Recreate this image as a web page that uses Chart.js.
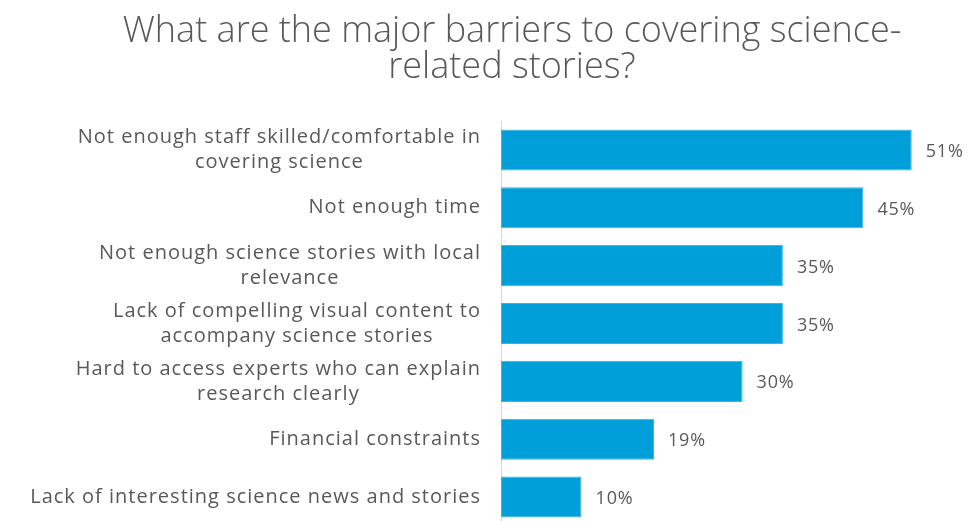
<!DOCTYPE html>
<html>
<head>
<meta charset="utf-8">
<script src="https://cdn.jsdelivr.net/npm/chart.js@4"></script>
<style>
  html, body { margin: 0; padding: 0; background: #fff; overflow: hidden; }
  #wrap { width: 968px; height: 526px; }
</style>
</head>
<body>
<div id="wrap"><canvas id="myChart" width="968" height="526"></canvas></div>
<script>
const categories = [
  ['Not enough staff skilled/comfortable in', 'covering science'],
  'Not enough time',
  ['Not enough science stories with local', 'relevance'],
  ['Lack of compelling visual content to', 'accompany science stories'],
  ['Hard to access experts who can explain', 'research clearly'],
  'Financial constraints',
  'Lack of interesting science news and stories'
]
const percents = [51, 45, 35, 35, 30, 19, 10]
const titleLines = ['What are the major barriers to covering science-', 'related stories?']

const FONT = '"Open Sans", "DejaVu Sans", sans-serif'
const GREY = '#595959'

// category names drawn by hand so wrapped lines are centred on each other
const categoryText = {
  id: 'categoryText',
  afterDraw(chart) {
    const ctx = chart.ctx
    const yScale = chart.scales.y
    const right = chart.chartArea.left - 20
    ctx.save()
    ctx.font = '20px ' + FONT
    ctx.letterSpacing = '1px'
    ctx.fillStyle = GREY
    ctx.textAlign = 'center'
    ctx.textBaseline = 'middle'
    categories.forEach((cat, i) => {
      const lines = Array.isArray(cat) ? cat : [cat]
      const w = Math.max(...lines.map(l => ctx.measureText(l).width))
      const cx = right - w / 2
      const cy = yScale.getPixelForValue(i)
      lines.forEach((l, j) => {
        ctx.fillText(l, cx, cy + (j - (lines.length - 1) / 2) * 25)
      })
    })
    ctx.restore()
  }
}

// percentage next to the end of each bar
const valueText = {
  id: 'valueText',
  afterDatasetsDraw(chart) {
    const ctx = chart.ctx
    const meta = chart.getDatasetMeta(0)
    ctx.save()
    ctx.font = '18px ' + FONT
    ctx.letterSpacing = '0.8px'
    ctx.fillStyle = GREY
    ctx.textAlign = 'left'
    ctx.textBaseline = 'middle'
    meta.data.forEach((bar, i) => {
      ctx.fillText(percents[i] + '%', bar.x + 14, bar.y + 2)
    })
    ctx.restore()
  }
}

const ctx = document.getElementById('myChart')
const myChart = new Chart(ctx, {
  type: 'bar',
  data: {
    labels: categories,
    datasets: [{
      data: percents,
      backgroundColor: '#009FDA',
      borderColor: '#3BB3E4',
      borderWidth: 1,
      borderSkipped: false,
      categoryPercentage: 1,
      barPercentage: 0.71
    }]
  },
  options: {
    indexAxis: 'y',
    responsive: false,
    animation: false,
    layout: { padding: { left: 72, right: 16, top: 0, bottom: 0 } },
    plugins: {
      legend: { display: false },
      tooltip: { enabled: false },
      title: {
        display: true,
        text: titleLines,
        color: GREY,
        font: { family: FONT, size: 36, weight: '300', lineHeight: 1.0 },
        padding: { top: 14, bottom: 35 }
      }
    },
    scales: {
      x: { display: false, min: 0, max: 56 },
      y: {
        grid: { display: false },
        border: { display: true, color: '#D9D9D9', width: 1 },
        ticks: { display: false },
        afterFit(scale) { scale.width = 501 - 72 }
      }
    }
  },
  plugins: [categoryText, valueText]
})
</script>
</body>
</html>
